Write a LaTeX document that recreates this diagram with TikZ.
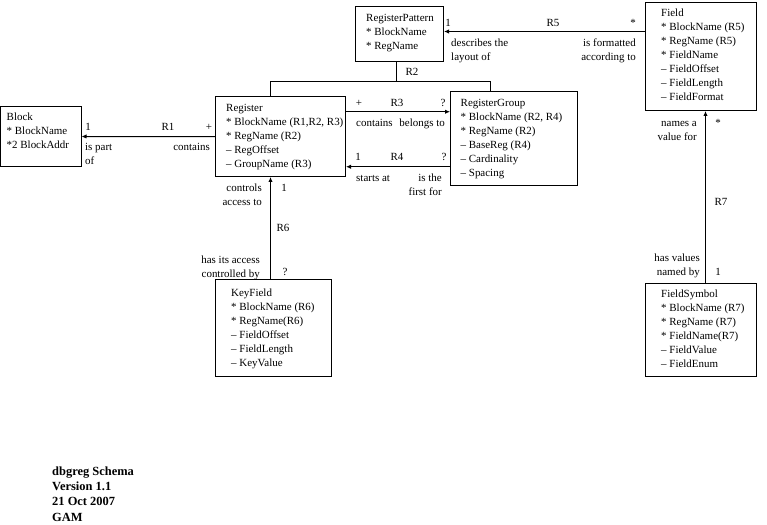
\documentclass[tikz,border=0pt]{standalone}
\usepackage{fontspec}
\setmainfont{Liberation Serif}
\usetikzlibrary{arrows.meta}
\tikzset{
  ent/.style={draw, line width=1bp, inner sep=0pt, anchor=north west},
  body/.style={anchor=base west, inner sep=0pt, font=\fontsize{11}{14}\selectfont},
  lbl/.style={inner sep=0pt, anchor=base, font=\fontsize{11}{14}\selectfont},
  lbll/.style={lbl, anchor=base west},
  lblr/.style={lbl, anchor=base east},
  rel/.style={line width=1bp},
  relarrow/.style={rel, -{Latex[length=5bp,width=4.5bp]}},
  note/.style={inner sep=0pt, anchor=base west, font=\fontsize{12.5}{15.5}\selectfont\bfseries}
}
\newcommand{\lines}[1]{\begin{tabular}[t]{@{}l@{}}#1\end{tabular}}
\newcommand{\rlines}[1]{\begin{tabular}[t]{@{}r@{}}#1\end{tabular}}
\newcommand{\keymark}{{*}}
\begin{document}
\begin{tikzpicture}[x=1bp,y=-1bp]
\fill[white] (0,0) rectangle (767,525);
\useasboundingbox (0,0) rectangle (767,525);

% entity boxes
\node[ent, minimum width=80bp,  minimum height=60bp]   (block) at (0.5,106) {};
\node[ent, minimum width=130bp, minimum height=79.5bp] (reg)   at (215,96.5) {};
\node[ent, minimum width=88bp,  minimum height=55bp]   (rp)    at (355,6) {};
\node[ent, minimum width=127bp, minimum height=94bp]   (rg)    at (450,91) {};
\node[ent, minimum width=111bp, minimum height=108bp]  (field) at (645,2) {};
\node[ent, minimum width=116bp, minimum height=97bp]   (key)   at (215,279) {};
\node[ent, minimum width=111bp, minimum height=93.5bp] (fs)    at (645,282.5) {};

% entity contents
\node[body] (blockt) at ([shift={(6,15)}]block.north west)
  {\lines{Block\\\keymark{} BlockName\\\keymark2 BlockAddr}};
\node[body] (regt) at ([shift={(11,15.5)}]reg.north west)
  {\lines{Register\\\keymark{} BlockName (R1,R2, R3)\\\keymark{} RegName (R2)\\– RegOffset\\– GroupName (R3)}};
\node[body] (rpt) at ([shift={(11,15.5)}]rp.north west)
  {\lines{RegisterPattern\\\keymark{} BlockName\\\keymark{} RegName}};
\node[body] (rgt) at ([shift={(10.5,15.5)}]rg.north west)
  {\lines{RegisterGroup\\\keymark{} BlockName (R2, R4)\\\keymark{} RegName (R2)\\– BaseReg (R4)\\– Cardinality\\– Spacing}};
\node[body] (fieldt) at ([shift={(16,15)}]field.north west)
  {\lines{Field\\\keymark{} BlockName (R5)\\\keymark{} RegName (R5)\\\keymark{} FieldName\\– FieldOffset\\– FieldLength\\– FieldFormat}};
\node[body] (keyt) at ([shift={(16,18)}]key.north west)
  {\lines{KeyField\\\keymark{} BlockName (R6)\\\keymark{} RegName(R6)\\– FieldOffset\\– FieldLength\\– KeyValue}};
\node[body] (fst) at ([shift={(16,15)}]fs.north west)
  {\lines{FieldSymbol\\\keymark{} BlockName (R7)\\\keymark{} RegName (R7)\\\keymark{} FieldName(R7)\\– FieldValue\\– FieldEnum}};

% connectors
\coordinate (r2h) at (0,81.5);
\draw[relarrow] (reg.west) -- (block.east);
\draw[relarrow] ([yshift=25bp]reg.east) -- ([yshift=25bp]reg.east -| rg.west);
\draw[relarrow] ([yshift=-30bp]reg.east -| rg.west) -- ([yshift=-30bp]reg.east);
\draw[rel] ([xshift=-10bp]reg.north) |- ([xshift=-23.5bp]rg.north |- r2h) -- ([xshift=-23.5bp]rg.north);
\draw[rel] ([xshift=-3.5bp]rp.south) -- ([xshift=-3.5bp]rp.south |- r2h);
\draw[relarrow] ([yshift=25bp]field.west) -- ([yshift=25bp]field.west -| rp.east);
\draw[relarrow] ([xshift=-3bp]key.north) -- ([xshift=-3bp]key.north |- reg.south);
\draw[relarrow] ([xshift=4.5bp]fs.north) -- ([xshift=4.5bp]fs.north |- field.south);

% R1 labels
\node[lbl] (r1a) at (88,130.5) {1};
\node[lbl] (r1n) at (168,130.5) {R1};
\node[lbl] (r1b) at (209,130.5) {+};
\node[lbll] (r1c) at (85,150.5) {\lines{is part\\of}};
\node[lblr] (r1d) at (210,150.5) {contains};
% R2 label
\node[lbl] (r2n) at (412,76) {R2};
% R3 labels
\node[lbl] (r3a) at (359,106.5) {+};
\node[lbl] (r3n) at (397,106.5) {R3};
\node[lbl] (r3b) at (443,106.5) {?};
\node[lbll] (r3c) at (356,126.5) {contains};
\node[lblr] (r3d) at (445,126.5) {belongs to};
% R4 labels
\node[lbl] (r4a) at (358,160.5) {1};
\node[lbl] (r4n) at (397,160.5) {R4};
\node[lbl] (r4b) at (444,160.5) {?};
\node[lbll] (r4c) at (356,182) {starts at};
\node[lblr] (r4d) at (442,182) {\rlines{is the\\first for}};
% R5 labels
\node[lbl] (r5a) at (448,27) {1};
\node[lbl] (r5n) at (553,27) {R5};
\node[lbl] (r5b) at (633,27) {*};
\node[lbll] (r5c) at (451,46.5) {\lines{describes the\\layout of}};
\node[lblr] (r5d) at (636,46.5) {\rlines{is formatted\\according to}};
% R6 labels
\node[lblr] (r6c) at (262,192) {\rlines{controls\\access to}};
\node[lbl] (r6a) at (284,192) {1};
\node[lbl] (r6n) at (283,231.5) {R6};
\node[lblr] (r6d) at (260,263.5) {\rlines{has its access\\controlled by}};
\node[lbl] (r6b) at (285,276) {?};
% R7 labels
\node[lblr] (r7c) at (697,127) {\rlines{names a\\value for}};
\node[lbl] (r7a) at (718,127) {*};
\node[lbl] (r7n) at (721,206) {R7};
\node[lblr] (r7d) at (700,262) {\rlines{has values\\named by}};
\node[lbl] (r7b) at (718,276) {1};

% footer note
\node[note] (notes) at (52,475)
  {\begin{tabular}[t]{@{}l@{}}dbgreg Schema\\Version 1.1\\21 Oct 2007\\GAM\end{tabular}};
\end{tikzpicture}
\end{document}
